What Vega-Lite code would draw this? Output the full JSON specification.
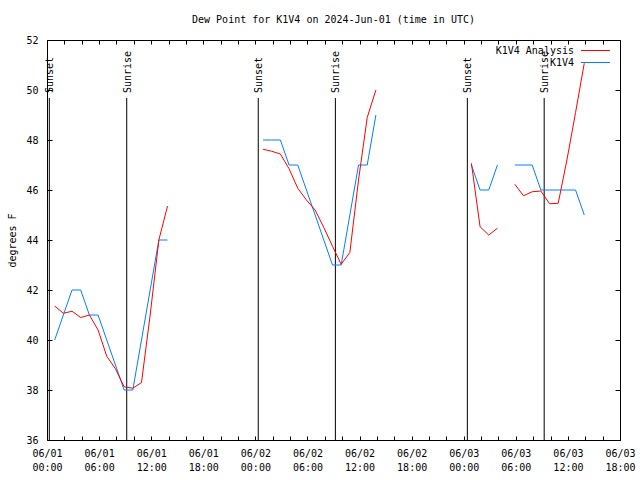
{
  "$schema": "https://vega.github.io/schema/vega-lite/v6.json",
  "width": 573,
  "height": 400,
  "autosize": {"type": "none"},
  "padding": {"left": 47, "top": 40, "right": 20, "bottom": 40},
  "background": "white",
  "title": {"text": "Dew Point for K1V4 on 2024-Jun-01 (time in UTC)", "font": "DejaVu Sans Mono", "fontSize": 10, "fontWeight": "normal", "color": "black", "anchor": "middle", "offset": 2, "baseline": "alphabetic"},
  "config": {
    "view": {"stroke": "black", "strokeWidth": 1},
    "font": "DejaVu Sans Mono",
    "axis": {"labelFont": "DejaVu Sans Mono", "labelFontSize": 10, "labelColor": "black", "titleFont": "DejaVu Sans Mono", "titleFontSize": 10, "titleFontWeight": "normal", "titleColor": "black", "domain": false, "grid": false, "tickColor": "black", "tickWidth": 1}
  },
  "datasets": {
    "obs": [
      {"t": "2024-06-01T00:53:00Z", "v": 40, "s": "K1V4", "g": "b1"},
      {"t": "2024-06-01T01:53:00Z", "v": 41, "s": "K1V4", "g": "b1"},
      {"t": "2024-06-01T02:53:00Z", "v": 42, "s": "K1V4", "g": "b1"},
      {"t": "2024-06-01T03:53:00Z", "v": 42, "s": "K1V4", "g": "b1"},
      {"t": "2024-06-01T04:53:00Z", "v": 41, "s": "K1V4", "g": "b1"},
      {"t": "2024-06-01T05:53:00Z", "v": 41, "s": "K1V4", "g": "b1"},
      {"t": "2024-06-01T06:53:00Z", "v": 40, "s": "K1V4", "g": "b1"},
      {"t": "2024-06-01T07:53:00Z", "v": 39, "s": "K1V4", "g": "b1"},
      {"t": "2024-06-01T08:53:00Z", "v": 38, "s": "K1V4", "g": "b1"},
      {"t": "2024-06-01T09:53:00Z", "v": 38, "s": "K1V4", "g": "b1"},
      {"t": "2024-06-01T10:53:00Z", "v": 40, "s": "K1V4", "g": "b1"},
      {"t": "2024-06-01T11:53:00Z", "v": 42, "s": "K1V4", "g": "b1"},
      {"t": "2024-06-01T12:53:00Z", "v": 44, "s": "K1V4", "g": "b1"},
      {"t": "2024-06-01T13:53:00Z", "v": 44, "s": "K1V4", "g": "b1"},
      {"t": "2024-06-02T00:53:00Z", "v": 48, "s": "K1V4", "g": "b2"},
      {"t": "2024-06-02T01:53:00Z", "v": 48, "s": "K1V4", "g": "b2"},
      {"t": "2024-06-02T02:53:00Z", "v": 48, "s": "K1V4", "g": "b2"},
      {"t": "2024-06-02T03:53:00Z", "v": 47, "s": "K1V4", "g": "b2"},
      {"t": "2024-06-02T04:53:00Z", "v": 47, "s": "K1V4", "g": "b2"},
      {"t": "2024-06-02T05:53:00Z", "v": 46, "s": "K1V4", "g": "b2"},
      {"t": "2024-06-02T06:53:00Z", "v": 45, "s": "K1V4", "g": "b2"},
      {"t": "2024-06-02T07:53:00Z", "v": 44, "s": "K1V4", "g": "b2"},
      {"t": "2024-06-02T08:53:00Z", "v": 43, "s": "K1V4", "g": "b2"},
      {"t": "2024-06-02T09:53:00Z", "v": 43, "s": "K1V4", "g": "b2"},
      {"t": "2024-06-02T10:53:00Z", "v": 45, "s": "K1V4", "g": "b2"},
      {"t": "2024-06-02T11:53:00Z", "v": 47, "s": "K1V4", "g": "b2"},
      {"t": "2024-06-02T12:53:00Z", "v": 47, "s": "K1V4", "g": "b2"},
      {"t": "2024-06-02T13:53:00Z", "v": 49, "s": "K1V4", "g": "b2"},
      {"t": "2024-06-03T00:53:00Z", "v": 47, "s": "K1V4", "g": "b3"},
      {"t": "2024-06-03T01:53:00Z", "v": 46, "s": "K1V4", "g": "b3"},
      {"t": "2024-06-03T02:53:00Z", "v": 46, "s": "K1V4", "g": "b3"},
      {"t": "2024-06-03T03:53:00Z", "v": 47, "s": "K1V4", "g": "b3"},
      {"t": "2024-06-03T05:53:00Z", "v": 47, "s": "K1V4", "g": "b4"},
      {"t": "2024-06-03T06:53:00Z", "v": 47, "s": "K1V4", "g": "b4"},
      {"t": "2024-06-03T07:53:00Z", "v": 47, "s": "K1V4", "g": "b4"},
      {"t": "2024-06-03T08:53:00Z", "v": 46, "s": "K1V4", "g": "b4"},
      {"t": "2024-06-03T09:53:00Z", "v": 46, "s": "K1V4", "g": "b4"},
      {"t": "2024-06-03T10:53:00Z", "v": 46, "s": "K1V4", "g": "b4"},
      {"t": "2024-06-03T11:53:00Z", "v": 46, "s": "K1V4", "g": "b4"},
      {"t": "2024-06-03T12:53:00Z", "v": 46, "s": "K1V4", "g": "b4"},
      {"t": "2024-06-03T13:53:00Z", "v": 45, "s": "K1V4", "g": "b4"},
      {"t": "2024-06-01T00:53:00Z", "v": 41.36, "s": "K1V4 Analysis", "g": "r1"},
      {"t": "2024-06-01T01:53:00Z", "v": 41.07, "s": "K1V4 Analysis", "g": "r1"},
      {"t": "2024-06-01T02:53:00Z", "v": 41.15, "s": "K1V4 Analysis", "g": "r1"},
      {"t": "2024-06-01T03:53:00Z", "v": 40.9, "s": "K1V4 Analysis", "g": "r1"},
      {"t": "2024-06-01T04:53:00Z", "v": 41.0, "s": "K1V4 Analysis", "g": "r1"},
      {"t": "2024-06-01T05:53:00Z", "v": 40.4, "s": "K1V4 Analysis", "g": "r1"},
      {"t": "2024-06-01T06:53:00Z", "v": 39.35, "s": "K1V4 Analysis", "g": "r1"},
      {"t": "2024-06-01T07:53:00Z", "v": 38.85, "s": "K1V4 Analysis", "g": "r1"},
      {"t": "2024-06-01T08:53:00Z", "v": 38.13, "s": "K1V4 Analysis", "g": "r1"},
      {"t": "2024-06-01T09:53:00Z", "v": 38.07, "s": "K1V4 Analysis", "g": "r1"},
      {"t": "2024-06-01T10:53:00Z", "v": 38.3, "s": "K1V4 Analysis", "g": "r1"},
      {"t": "2024-06-01T11:53:00Z", "v": 41.0, "s": "K1V4 Analysis", "g": "r1"},
      {"t": "2024-06-01T12:53:00Z", "v": 44.0, "s": "K1V4 Analysis", "g": "r1"},
      {"t": "2024-06-01T13:53:00Z", "v": 45.36, "s": "K1V4 Analysis", "g": "r1"},
      {"t": "2024-06-02T00:53:00Z", "v": 47.63, "s": "K1V4 Analysis", "g": "r2"},
      {"t": "2024-06-02T01:53:00Z", "v": 47.55, "s": "K1V4 Analysis", "g": "r2"},
      {"t": "2024-06-02T02:53:00Z", "v": 47.44, "s": "K1V4 Analysis", "g": "r2"},
      {"t": "2024-06-02T03:53:00Z", "v": 46.85, "s": "K1V4 Analysis", "g": "r2"},
      {"t": "2024-06-02T04:53:00Z", "v": 46.07, "s": "K1V4 Analysis", "g": "r2"},
      {"t": "2024-06-02T05:53:00Z", "v": 45.6, "s": "K1V4 Analysis", "g": "r2"},
      {"t": "2024-06-02T06:53:00Z", "v": 45.2, "s": "K1V4 Analysis", "g": "r2"},
      {"t": "2024-06-02T07:53:00Z", "v": 44.5, "s": "K1V4 Analysis", "g": "r2"},
      {"t": "2024-06-02T08:53:00Z", "v": 43.75, "s": "K1V4 Analysis", "g": "r2"},
      {"t": "2024-06-02T09:53:00Z", "v": 43.03, "s": "K1V4 Analysis", "g": "r2"},
      {"t": "2024-06-02T10:53:00Z", "v": 43.5, "s": "K1V4 Analysis", "g": "r2"},
      {"t": "2024-06-02T11:53:00Z", "v": 46.4, "s": "K1V4 Analysis", "g": "r2"},
      {"t": "2024-06-02T12:53:00Z", "v": 48.9, "s": "K1V4 Analysis", "g": "r2"},
      {"t": "2024-06-02T13:53:00Z", "v": 50.0, "s": "K1V4 Analysis", "g": "r2"},
      {"t": "2024-06-03T00:53:00Z", "v": 47.07, "s": "K1V4 Analysis", "g": "r3"},
      {"t": "2024-06-03T01:53:00Z", "v": 44.53, "s": "K1V4 Analysis", "g": "r3"},
      {"t": "2024-06-03T02:53:00Z", "v": 44.2, "s": "K1V4 Analysis", "g": "r3"},
      {"t": "2024-06-03T03:53:00Z", "v": 44.47, "s": "K1V4 Analysis", "g": "r3"},
      {"t": "2024-06-03T05:53:00Z", "v": 46.23, "s": "K1V4 Analysis", "g": "r4"},
      {"t": "2024-06-03T06:53:00Z", "v": 45.77, "s": "K1V4 Analysis", "g": "r4"},
      {"t": "2024-06-03T07:53:00Z", "v": 45.93, "s": "K1V4 Analysis", "g": "r4"},
      {"t": "2024-06-03T08:53:00Z", "v": 45.96, "s": "K1V4 Analysis", "g": "r4"},
      {"t": "2024-06-03T09:53:00Z", "v": 45.45, "s": "K1V4 Analysis", "g": "r4"},
      {"t": "2024-06-03T10:53:00Z", "v": 45.47, "s": "K1V4 Analysis", "g": "r4"},
      {"t": "2024-06-03T11:53:00Z", "v": 47.2, "s": "K1V4 Analysis", "g": "r4"},
      {"t": "2024-06-03T12:53:00Z", "v": 49.1, "s": "K1V4 Analysis", "g": "r4"},
      {"t": "2024-06-03T13:53:00Z", "v": 51.07, "s": "K1V4 Analysis", "g": "r4"}
    ],
    "sun": [
      {"t": "2024-06-01T00:16:00Z", "label": "Sunset"},
      {"t": "2024-06-01T09:11:00Z", "label": "Sunrise"},
      {"t": "2024-06-02T00:20:00Z", "label": "Sunset"},
      {"t": "2024-06-02T09:13:00Z", "label": "Sunrise"},
      {"t": "2024-06-03T00:25:00Z", "label": "Sunset"},
      {"t": "2024-06-03T09:16:00Z", "label": "Sunrise"}
    ]
  },
  "layer": [
    {
      "data": {"name": "sun"},
      "mark": {"type": "rule", "color": "black", "strokeWidth": 1},
      "encoding": {
        "x": {"field": "t", "type": "temporal", "scale": {"type": "utc", "domain": [1717200000000, 1717437600000]}, "axis": {"orient": "top", "labels": false, "title": null, "tickSize": -4, "values": [1717200000000, 1717207200000, 1717214400000, 1717221600000, 1717228800000, 1717236000000, 1717243200000, 1717250400000, 1717257600000, 1717264800000, 1717272000000, 1717279200000, 1717286400000, 1717293600000, 1717300800000, 1717308000000, 1717315200000, 1717322400000, 1717329600000, 1717336800000, 1717344000000, 1717351200000, 1717358400000, 1717365600000, 1717372800000, 1717380000000, 1717387200000, 1717394400000, 1717401600000, 1717408800000, 1717416000000, 1717423200000, 1717430400000, 1717437600000]}},
        "y": {"datum": 36, "type": "quantitative", "scale": {"domain": [36, 52], "nice": false, "zero": false}, "axis": {"orient": "right", "labels": false, "title": null, "tickSize": -5, "values": [36, 38, 40, 42, 44, 46, 48, 50, 52]}},
        "y2": {"datum": 49.68}
      }
    },
    {
      "data": {"name": "sun"},
      "mark": {"type": "text", "angle": 270, "align": "left", "baseline": "middle", "font": "DejaVu Sans Mono", "fontSize": 10, "color": "black", "dy": 1},
      "encoding": {
        "x": {"field": "t", "type": "temporal", "scale": {"type": "utc", "domain": [1717200000000, 1717437600000]}, "axis": null},
        "y": {"datum": 49.88, "type": "quantitative", "scale": {"domain": [36, 52], "nice": false, "zero": false}, "axis": null},
        "text": {"field": "label"}
      }
    },
    {
      "data": {"name": "obs"},
      "mark": {"type": "line", "strokeWidth": 1, "interpolate": "linear"},
      "encoding": {
        "x": {"field": "t", "type": "temporal", "scale": {"type": "utc", "domain": [1717200000000, 1717437600000]}, "axis": {"orient": "bottom", "title": null, "tickSize": -4, "labelPadding": 12, "values": [1717200000000, 1717207200000, 1717214400000, 1717221600000, 1717228800000, 1717236000000, 1717243200000, 1717250400000, 1717257600000, 1717264800000, 1717272000000, 1717279200000, 1717286400000, 1717293600000, 1717300800000, 1717308000000, 1717315200000, 1717322400000, 1717329600000, 1717336800000, 1717344000000, 1717351200000, 1717358400000, 1717365600000, 1717372800000, 1717380000000, 1717387200000, 1717394400000, 1717401600000, 1717408800000, 1717416000000, 1717423200000, 1717430400000, 1717437600000], "labelOverlap": false, "labelFlush": false, "labelBound": false, "labelLineHeight": 14, "labelExpr": "utchours(datum.value) % 6 === 0 ? [utcFormat(datum.value, '%m/%d'), utcFormat(datum.value, '%H:%M')] : ''"}},
        "y": {"field": "v", "type": "quantitative", "scale": {"domain": [36, 52], "nice": false, "zero": false}, "axis": {"orient": "left", "title": "degrees F", "tickSize": -5, "labelPadding": 14, "titlePadding": 8, "values": [36, 38, 40, 42, 44, 46, 48, 50, 52]}},
        "color": {"field": "s", "type": "nominal", "scale": {"domain": ["K1V4 Analysis", "K1V4"], "range": ["#ff0000", "#0080ff"]}, "legend": {"orient": "none", "legendX": 543, "legendY": 5, "title": null, "symbolType": "M-3,0H3", "symbolSize": 93.4, "symbolStrokeWidth": 1, "labelFont": "DejaVu Sans Mono", "labelFontSize": 10, "labelColor": "black", "labelAlign": "right", "labelOffset": -27, "rowPadding": 1, "padding": 0, "labelLimit": 300}},
        "detail": {"field": "g", "type": "nominal"}
      }
    }
  ],
  "resolve": {"axis": {"x": "independent", "y": "independent"}}
}
